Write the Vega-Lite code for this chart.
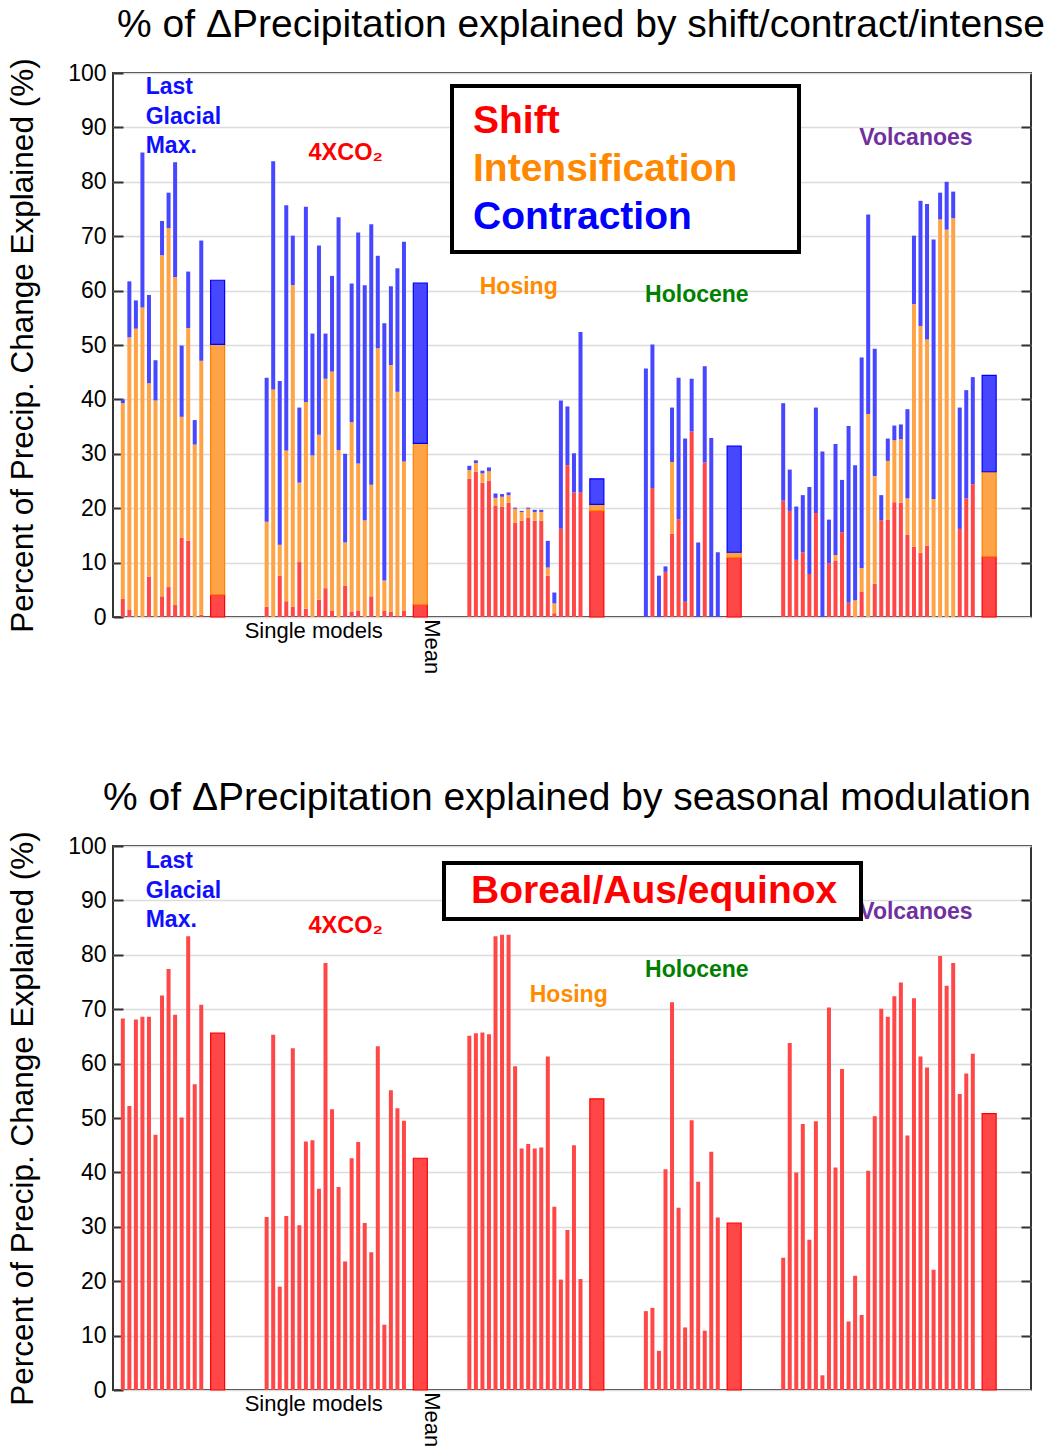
{
  "$schema": "https://vega.github.io/schema/vega-lite/v6.json",
  "background": "white",
  "padding": {"left": 6, "top": 4, "right": 0, "bottom": 0},
  "config": {
    "font": "Liberation Sans",
    "view": {"stroke": "#333333", "strokeWidth": 2},
    "axis": {"labelFont": "Liberation Sans", "titleFont": "Liberation Sans"},
    "legend": {"labelFont": "Liberation Sans", "titleFont": "Liberation Sans", "strokeColor": "black", "strokeWidth": 4, "fillColor": "white"}
  },
  "datasets": {
    "top": [
      {"x": 0, "kind": "single", "Shift": 3.3, "Intensification": 36.0, "Contraction": 0.7},
      {"x": 1, "kind": "single", "Shift": 1.4, "Intensification": 50.0, "Contraction": 10.3},
      {"x": 2, "kind": "single", "Shift": 0, "Intensification": 53.0, "Contraction": 5.2},
      {"x": 3, "kind": "single", "Shift": 0, "Intensification": 56.9, "Contraction": 28.5},
      {"x": 4, "kind": "single", "Shift": 7.4, "Intensification": 35.6, "Contraction": 16.2},
      {"x": 5, "kind": "single", "Shift": 0, "Intensification": 39.8, "Contraction": 7.4},
      {"x": 6, "kind": "single", "Shift": 3.8, "Intensification": 62.7, "Contraction": 6.3},
      {"x": 7, "kind": "single", "Shift": 5.5, "Intensification": 66.0, "Contraction": 6.5},
      {"x": 8, "kind": "single", "Shift": 2.2, "Intensification": 60.3, "Contraction": 21.1},
      {"x": 9, "kind": "single", "Shift": 14.6, "Intensification": 22.2, "Contraction": 13.1},
      {"x": 10, "kind": "single", "Shift": 14.0, "Intensification": 39.1, "Contraction": 10.4},
      {"x": 11, "kind": "single", "Shift": 0, "Intensification": 31.7, "Contraction": 4.5},
      {"x": 12, "kind": "single", "Shift": 0.4, "Intensification": 46.7, "Contraction": 22.1},
      {"x": 14.5, "kind": "mean", "Shift": 4.1, "Intensification": 46.0, "Contraction": 11.8},
      {"x": 22, "kind": "single", "Shift": 1.9, "Intensification": 15.6, "Contraction": 26.5},
      {"x": 23, "kind": "single", "Shift": 0, "Intensification": 41.8, "Contraction": 42.0},
      {"x": 24, "kind": "single", "Shift": 7.6, "Intensification": 5.7, "Contraction": 30.1},
      {"x": 25, "kind": "single", "Shift": 2.9, "Intensification": 27.7, "Contraction": 45.1},
      {"x": 26, "kind": "single", "Shift": 1.9, "Intensification": 59.1, "Contraction": 9.1},
      {"x": 27, "kind": "single", "Shift": 10.1, "Intensification": 14.6, "Contraction": 13.8},
      {"x": 28, "kind": "single", "Shift": 1.5, "Intensification": 38.0, "Contraction": 35.9},
      {"x": 29, "kind": "single", "Shift": 0, "Intensification": 29.7, "Contraction": 22.4},
      {"x": 30, "kind": "single", "Shift": 3.2, "Intensification": 30.3, "Contraction": 34.8},
      {"x": 31, "kind": "single", "Shift": 5.3, "Intensification": 38.5, "Contraction": 8.3},
      {"x": 32, "kind": "single", "Shift": 1.2, "Intensification": 43.9, "Contraction": 17.6},
      {"x": 33, "kind": "single", "Shift": 0, "Intensification": 30.7, "Contraction": 42.8},
      {"x": 34, "kind": "single", "Shift": 5.7, "Intensification": 8.0, "Contraction": 16.3},
      {"x": 35, "kind": "single", "Shift": 1.0, "Intensification": 34.8, "Contraction": 25.5},
      {"x": 36, "kind": "single", "Shift": 1.2, "Intensification": 27.0, "Contraction": 42.5},
      {"x": 37, "kind": "single", "Shift": 0, "Intensification": 17.8, "Contraction": 43.2},
      {"x": 38, "kind": "single", "Shift": 3.8, "Intensification": 20.5, "Contraction": 47.9},
      {"x": 39, "kind": "single", "Shift": 0, "Intensification": 49.4, "Contraction": 17.0},
      {"x": 40, "kind": "single", "Shift": 1.1, "Intensification": 5.6, "Contraction": 47.3},
      {"x": 41, "kind": "single", "Shift": 1.0, "Intensification": 45.3, "Contraction": 14.5},
      {"x": 42, "kind": "single", "Shift": 0.2, "Intensification": 41.2, "Contraction": 22.7},
      {"x": 43, "kind": "single", "Shift": 1.1, "Intensification": 27.5, "Contraction": 40.4},
      {"x": 45.5, "kind": "mean", "Shift": 2.3, "Intensification": 29.6, "Contraction": 29.5},
      {"x": 53, "kind": "single", "Shift": 25.4, "Intensification": 1.6, "Contraction": 0.8},
      {"x": 54, "kind": "single", "Shift": 26.7, "Intensification": 1.6, "Contraction": 0.5},
      {"x": 55, "kind": "single", "Shift": 24.7, "Intensification": 1.7, "Contraction": 0.5},
      {"x": 56, "kind": "single", "Shift": 25.1, "Intensification": 1.7, "Contraction": 0.7},
      {"x": 57, "kind": "single", "Shift": 20.5, "Intensification": 1.4, "Contraction": 0.8},
      {"x": 58, "kind": "single", "Shift": 20.3, "Intensification": 1.8, "Contraction": 0.5},
      {"x": 59, "kind": "single", "Shift": 21.0, "Intensification": 1.4, "Contraction": 0.5},
      {"x": 60, "kind": "single", "Shift": 17.3, "Intensification": 2.6, "Contraction": 0.2},
      {"x": 61, "kind": "single", "Shift": 17.7, "Intensification": 1.6, "Contraction": 0.2},
      {"x": 62, "kind": "single", "Shift": 18.3, "Intensification": 1.6, "Contraction": 0.2},
      {"x": 63, "kind": "single", "Shift": 17.7, "Intensification": 1.6, "Contraction": 0.4},
      {"x": 64, "kind": "single", "Shift": 17.7, "Intensification": 1.6, "Contraction": 0.4},
      {"x": 65, "kind": "single", "Shift": 7.6, "Intensification": 1.5, "Contraction": 4.9},
      {"x": 66, "kind": "single", "Shift": 0.7, "Intensification": 1.8, "Contraction": 2.0},
      {"x": 67, "kind": "single", "Shift": 16.2, "Intensification": 0, "Contraction": 23.6},
      {"x": 68, "kind": "single", "Shift": 27.9, "Intensification": 0, "Contraction": 10.8},
      {"x": 69, "kind": "single", "Shift": 22.9, "Intensification": 0, "Contraction": 7.2},
      {"x": 70, "kind": "single", "Shift": 22.9, "Intensification": 0, "Contraction": 29.5},
      {"x": 72.5, "kind": "mean", "Shift": 19.5, "Intensification": 1.2, "Contraction": 4.7},
      {"x": 80, "kind": "single", "Shift": 0, "Intensification": 0, "Contraction": 45.7},
      {"x": 81, "kind": "single", "Shift": 23.7, "Intensification": 0, "Contraction": 26.4},
      {"x": 82, "kind": "single", "Shift": 0, "Intensification": 0, "Contraction": 7.6},
      {"x": 83, "kind": "single", "Shift": 8.3, "Intensification": 0, "Contraction": 1.0},
      {"x": 84, "kind": "single", "Shift": 15.3, "Intensification": 13.2, "Contraction": 10.0},
      {"x": 85, "kind": "single", "Shift": 18.0, "Intensification": 0, "Contraction": 26.0},
      {"x": 86, "kind": "single", "Shift": 2.8, "Intensification": 0, "Contraction": 30.0},
      {"x": 87, "kind": "single", "Shift": 34.1, "Intensification": 0, "Contraction": 9.7},
      {"x": 88, "kind": "single", "Shift": 0, "Intensification": 0, "Contraction": 13.7},
      {"x": 89, "kind": "single", "Shift": 28.4, "Intensification": 0, "Contraction": 17.7},
      {"x": 90, "kind": "single", "Shift": 0, "Intensification": 0, "Contraction": 32.9},
      {"x": 91, "kind": "single", "Shift": 0, "Intensification": 0, "Contraction": 11.9},
      {"x": 93.5, "kind": "mean", "Shift": 10.9, "Intensification": 1.0, "Contraction": 19.5},
      {"x": 101, "kind": "single", "Shift": 21.4, "Intensification": 0, "Contraction": 17.9},
      {"x": 102, "kind": "single", "Shift": 19.5, "Intensification": 0, "Contraction": 7.6},
      {"x": 103, "kind": "single", "Shift": 10.5, "Intensification": 0, "Contraction": 9.8},
      {"x": 104, "kind": "single", "Shift": 11.9, "Intensification": 0, "Contraction": 10.5},
      {"x": 105, "kind": "single", "Shift": 7.9, "Intensification": 0, "Contraction": 16.0},
      {"x": 106, "kind": "single", "Shift": 19.1, "Intensification": 0, "Contraction": 19.4},
      {"x": 107, "kind": "single", "Shift": 0, "Intensification": 0, "Contraction": 30.4},
      {"x": 108, "kind": "single", "Shift": 9.9, "Intensification": 0, "Contraction": 8.0},
      {"x": 109, "kind": "single", "Shift": 10.4, "Intensification": 1.0, "Contraction": 20.4},
      {"x": 110, "kind": "single", "Shift": 15.6, "Intensification": 0, "Contraction": 9.6},
      {"x": 111, "kind": "single", "Shift": 2.6, "Intensification": 0, "Contraction": 32.5},
      {"x": 112, "kind": "single", "Shift": 0, "Intensification": 3.1, "Contraction": 24.8},
      {"x": 113, "kind": "single", "Shift": 4.7, "Intensification": 4.3, "Contraction": 38.7},
      {"x": 114, "kind": "single", "Shift": 0, "Intensification": 37.3, "Contraction": 36.7},
      {"x": 115, "kind": "single", "Shift": 6.1, "Intensification": 19.8, "Contraction": 23.4},
      {"x": 116, "kind": "single", "Shift": 17.8, "Intensification": 0, "Contraction": 4.6},
      {"x": 117, "kind": "single", "Shift": 17.9, "Intensification": 10.8, "Contraction": 4.1},
      {"x": 118, "kind": "single", "Shift": 21.1, "Intensification": 11.4, "Contraction": 2.7},
      {"x": 119, "kind": "single", "Shift": 21.0, "Intensification": 11.7, "Contraction": 2.7},
      {"x": 120, "kind": "single", "Shift": 15.1, "Intensification": 6.7, "Contraction": 16.4},
      {"x": 121, "kind": "single", "Shift": 12.9, "Intensification": 44.6, "Contraction": 12.6},
      {"x": 122, "kind": "single", "Shift": 11.8, "Intensification": 41.7, "Contraction": 23.0},
      {"x": 123, "kind": "single", "Shift": 13.1, "Intensification": 37.9, "Contraction": 24.9},
      {"x": 124, "kind": "single", "Shift": 0, "Intensification": 21.7, "Contraction": 47.7},
      {"x": 125, "kind": "single", "Shift": 0, "Intensification": 73.1, "Contraction": 4.9},
      {"x": 126, "kind": "single", "Shift": 0, "Intensification": 71.2, "Contraction": 8.8},
      {"x": 127, "kind": "single", "Shift": 0, "Intensification": 73.3, "Contraction": 4.9},
      {"x": 128, "kind": "single", "Shift": 16.2, "Intensification": 0, "Contraction": 22.3},
      {"x": 129, "kind": "single", "Shift": 21.8, "Intensification": 0, "Contraction": 19.9},
      {"x": 130, "kind": "single", "Shift": 24.4, "Intensification": 0, "Contraction": 19.7},
      {"x": 132.5, "kind": "mean", "Shift": 11.1, "Intensification": 15.6, "Contraction": 17.7}
    ],
    "bottom": [
      {"x": 0, "kind": "single", "v": 68.3}, {"x": 1, "kind": "single", "v": 52.2}, {"x": 2, "kind": "single", "v": 68.1},
      {"x": 3, "kind": "single", "v": 68.6}, {"x": 4, "kind": "single", "v": 68.6}, {"x": 5, "kind": "single", "v": 46.9},
      {"x": 6, "kind": "single", "v": 72.5}, {"x": 7, "kind": "single", "v": 77.4}, {"x": 8, "kind": "single", "v": 69.0},
      {"x": 9, "kind": "single", "v": 50.1}, {"x": 10, "kind": "single", "v": 83.4}, {"x": 11, "kind": "single", "v": 56.2},
      {"x": 12, "kind": "single", "v": 70.8}, {"x": 14.5, "kind": "mean", "v": 65.6},
      {"x": 22, "kind": "single", "v": 31.8}, {"x": 23, "kind": "single", "v": 65.3}, {"x": 24, "kind": "single", "v": 19.0},
      {"x": 25, "kind": "single", "v": 32.0}, {"x": 26, "kind": "single", "v": 62.8}, {"x": 27, "kind": "single", "v": 30.3},
      {"x": 28, "kind": "single", "v": 45.7}, {"x": 29, "kind": "single", "v": 45.9}, {"x": 30, "kind": "single", "v": 37.0},
      {"x": 31, "kind": "single", "v": 78.5}, {"x": 32, "kind": "single", "v": 51.6}, {"x": 33, "kind": "single", "v": 37.3},
      {"x": 34, "kind": "single", "v": 23.6}, {"x": 35, "kind": "single", "v": 42.6}, {"x": 36, "kind": "single", "v": 45.6},
      {"x": 37, "kind": "single", "v": 30.7}, {"x": 38, "kind": "single", "v": 25.3}, {"x": 39, "kind": "single", "v": 63.2},
      {"x": 40, "kind": "single", "v": 12.0}, {"x": 41, "kind": "single", "v": 55.1}, {"x": 42, "kind": "single", "v": 51.8},
      {"x": 43, "kind": "single", "v": 49.5}, {"x": 45.5, "kind": "mean", "v": 42.6},
      {"x": 53, "kind": "single", "v": 65.1}, {"x": 54, "kind": "single", "v": 65.6}, {"x": 55, "kind": "single", "v": 65.7},
      {"x": 56, "kind": "single", "v": 65.4}, {"x": 57, "kind": "single", "v": 83.4}, {"x": 58, "kind": "single", "v": 83.7},
      {"x": 59, "kind": "single", "v": 83.7}, {"x": 60, "kind": "single", "v": 59.5}, {"x": 61, "kind": "single", "v": 44.4},
      {"x": 62, "kind": "single", "v": 45.2}, {"x": 63, "kind": "single", "v": 44.4}, {"x": 64, "kind": "single", "v": 44.6},
      {"x": 65, "kind": "single", "v": 61.3}, {"x": 66, "kind": "single", "v": 33.7}, {"x": 67, "kind": "single", "v": 20.3},
      {"x": 68, "kind": "single", "v": 29.4}, {"x": 69, "kind": "single", "v": 45.0}, {"x": 70, "kind": "single", "v": 20.4},
      {"x": 72.5, "kind": "mean", "v": 53.5},
      {"x": 80, "kind": "single", "v": 14.5}, {"x": 81, "kind": "single", "v": 15.1}, {"x": 82, "kind": "single", "v": 7.2},
      {"x": 83, "kind": "single", "v": 40.6}, {"x": 84, "kind": "single", "v": 71.3}, {"x": 85, "kind": "single", "v": 33.5},
      {"x": 86, "kind": "single", "v": 11.5}, {"x": 87, "kind": "single", "v": 49.6}, {"x": 88, "kind": "single", "v": 38.3},
      {"x": 89, "kind": "single", "v": 10.9}, {"x": 90, "kind": "single", "v": 43.8}, {"x": 91, "kind": "single", "v": 31.7},
      {"x": 93.5, "kind": "mean", "v": 30.7},
      {"x": 101, "kind": "single", "v": 24.3}, {"x": 102, "kind": "single", "v": 63.8}, {"x": 103, "kind": "single", "v": 40.0},
      {"x": 104, "kind": "single", "v": 48.9}, {"x": 105, "kind": "single", "v": 27.6}, {"x": 106, "kind": "single", "v": 49.4},
      {"x": 107, "kind": "single", "v": 2.7}, {"x": 108, "kind": "single", "v": 70.3}, {"x": 109, "kind": "single", "v": 40.9},
      {"x": 110, "kind": "single", "v": 59.0}, {"x": 111, "kind": "single", "v": 12.6}, {"x": 112, "kind": "single", "v": 21.0},
      {"x": 113, "kind": "single", "v": 13.8}, {"x": 114, "kind": "single", "v": 40.3}, {"x": 115, "kind": "single", "v": 50.3},
      {"x": 116, "kind": "single", "v": 70.1}, {"x": 117, "kind": "single", "v": 68.6}, {"x": 118, "kind": "single", "v": 72.4},
      {"x": 119, "kind": "single", "v": 74.9}, {"x": 120, "kind": "single", "v": 46.8}, {"x": 121, "kind": "single", "v": 72.0},
      {"x": 122, "kind": "single", "v": 61.3}, {"x": 123, "kind": "single", "v": 59.3}, {"x": 124, "kind": "single", "v": 22.1},
      {"x": 125, "kind": "single", "v": 79.8}, {"x": 126, "kind": "single", "v": 74.3}, {"x": 127, "kind": "single", "v": 78.5},
      {"x": 128, "kind": "single", "v": 54.4}, {"x": 129, "kind": "single", "v": 58.2}, {"x": 130, "kind": "single", "v": 61.8},
      {"x": 132.5, "kind": "mean", "v": 50.8}
    ]
  },
  "spacing": 229,
  "bounds": "flush",
  "resolve": {"scale": {"color": "independent", "stroke": "independent", "x": "independent", "y": "independent"}},
  "vconcat": [
    {
      "width": 918,
      "height": 544,
      "title": {"text": "% of \u0394Precipitation explained by shift/contract/intense", "fontSize": 39, "fontWeight": "normal", "font": "Liberation Sans", "color": "black", "anchor": "middle", "frame": "group", "offset": 13, "dx": 9},
      "resolve": {"axis": {"y": "independent"}},
      "layer": [
        {
          "data": {"name": "top"},
          "transform": [{"filter": "datum.kind == 'single'"}, {"fold": ["Shift", "Intensification", "Contraction"], "as": ["comp", "v"]}],
          "mark": {"type": "bar", "width": 4},
          "encoding": {
            "x": {"field": "x", "type": "quantitative", "scale": {"domain": [-1.5, 138.9], "nice": false, "zero": false, "padding": 0},
                  "axis": {"orient": "bottom", "domain": true, "domainColor": "#444444", "domainWidth": 3, "ticks": false, "labels": false, "grid": false, "title": null}},
            "y": {"field": "v", "type": "quantitative", "stack": "zero", "scale": {"domain": [0, 100], "nice": false},
                  "axis": {"values": [0, 10, 20, 30, 40, 50, 60, 70, 80, 90, 100], "grid": true, "gridColor": "#dcdcdc", "gridWidth": 1.5, "domain": false, "tickSize": -10, "tickColor": "#333333", "tickWidth": 2, "labelFontSize": 23, "labelColor": "black", "labelPadding": 17, "title": "Percent of Precip. Change Explained (%)", "titleFontSize": 31.5, "titleFontWeight": "normal", "titleColor": "black", "titlePadding": 28}},
            "color": {"field": "comp", "type": "nominal",
                      "scale": {"domain": ["Shift", "Intensification", "Contraction"], "range": ["#ff4747", "#ffa347", "#4747ff"]},
                      "legend": {"orient": "none", "legendX": 339, "legendY": 13,
                                 "title": "MM", "titleOrient": "right", "titleFontSize": 20, "titlePadding": 13, "titleOpacity": 0,
                                 "labelFontSize": 39, "labelFontWeight": "bold", "labelLimit": 600, "labelOffset": -33,
                                 "symbolSize": 0, "symbolOpacity": 0, "symbolStrokeWidth": 0, "rowPadding": 8, "padding": 15,
                                 "encode": {"labels": {"update": {"fill": {"signal": "datum.value === 'Shift' ? '#ff0000' : datum.value === 'Intensification' ? '#ff8800' : '#0000ff'"}}}}}},
            "order": {"field": "comp", "type": "ordinal", "sort": "descending"}
          }
        },
        {
          "data": {"name": "top"},
          "transform": [{"filter": "datum.kind == 'mean'"}, {"fold": ["Shift", "Intensification", "Contraction"], "as": ["comp", "v"]}],
          "mark": {"type": "bar", "width": 14, "strokeWidth": 1.2},
          "encoding": {
            "x": {"field": "x", "type": "quantitative", "axis": null},
            "y": {"field": "v", "type": "quantitative", "stack": "zero",
                  "axis": {"orient": "right", "values": [10, 20, 30, 40, 50, 60, 70, 80, 90], "grid": false, "domain": false, "labels": false, "tickSize": -10, "tickColor": "#333333", "tickWidth": 2, "title": null}},
            "color": {"field": "comp", "type": "nominal"},
            "stroke": {"field": "comp", "type": "nominal", "scale": {"domain": ["Shift", "Intensification", "Contraction"], "range": ["#ff0000", "#ff8000", "#0000ff"]}, "legend": null},
            "order": {"field": "comp", "type": "ordinal", "sort": "descending"}
          }
        },
        {
          "data": {"values": [{}]},
          "mark": {"type": "text", "text": ["Last", "Glacial", "Max."], "color": "#1010ff", "fontSize": 23, "fontWeight": "bold", "align": "left", "baseline": "alphabetic", "lineHeight": 29.5},
          "encoding": {"x": {"datum": 3.5, "type": "quantitative", "axis": null}, "y": {"datum": 96.1, "type": "quantitative", "axis": null}}
        },
        {
          "data": {"values": [{}]},
          "mark": {"type": "text", "text": "4XCO\u2082", "color": "#ff0000", "fontSize": 23.5, "fontWeight": "bold", "align": "center", "baseline": "alphabetic"},
          "encoding": {"x": {"datum": 34.1, "type": "quantitative", "axis": null}, "y": {"datum": 84.0, "type": "quantitative", "axis": null}}
        },
        {
          "data": {"values": [{}]},
          "mark": {"type": "text", "text": "Hosing", "color": "#ff8c00", "fontSize": 23, "fontWeight": "bold", "align": "center", "baseline": "alphabetic"},
          "encoding": {"x": {"datum": 60.55, "type": "quantitative", "axis": null}, "y": {"datum": 59.4, "type": "quantitative", "axis": null}}
        },
        {
          "data": {"values": [{}]},
          "mark": {"type": "text", "text": "Holocene", "color": "#008000", "fontSize": 23, "fontWeight": "bold", "align": "center", "baseline": "alphabetic"},
          "encoding": {"x": {"datum": 87.8, "type": "quantitative", "axis": null}, "y": {"datum": 57.9, "type": "quantitative", "axis": null}}
        },
        {
          "data": {"values": [{}]},
          "mark": {"type": "text", "text": "Volcanoes", "color": "#7030a0", "fontSize": 23, "fontWeight": "bold", "align": "center", "baseline": "alphabetic"},
          "encoding": {"x": {"datum": 121.3, "type": "quantitative", "axis": null}, "y": {"datum": 86.7, "type": "quantitative", "axis": null}}
        },
        {
          "data": {"values": [{}]},
          "mark": {"type": "text", "text": "Single models", "color": "black", "fontSize": 22, "align": "center", "baseline": "middle"},
          "encoding": {"x": {"datum": 29.2, "type": "quantitative", "axis": null}, "y": {"datum": -2.55, "type": "quantitative", "axis": null}}
        },
        {
          "data": {"values": [{}]},
          "mark": {"type": "text", "text": "Mean", "color": "black", "fontSize": 22, "align": "left", "baseline": "middle", "angle": 90},
          "encoding": {"x": {"datum": 47.3, "type": "quantitative", "axis": null}, "y": {"datum": -0.4, "type": "quantitative", "axis": null}}
        }
      ]
    },
    {
      "width": 918,
      "height": 544,
      "title": {"text": "% of \u0394Precipitation explained by seasonal modulation", "fontSize": 39, "fontWeight": "normal", "font": "Liberation Sans", "color": "black", "anchor": "middle", "frame": "group", "offset": 13, "dx": -5},
      "resolve": {"axis": {"y": "independent"}},
      "layer": [
        {
          "data": {"name": "bottom"},
          "transform": [{"filter": "datum.kind == 'single'"}],
          "mark": {"type": "bar", "width": 4},
          "encoding": {
            "x": {"field": "x", "type": "quantitative", "scale": {"domain": [-1.5, 138.9], "nice": false, "zero": false, "padding": 0},
                  "axis": {"orient": "bottom", "domain": true, "domainColor": "#444444", "domainWidth": 3, "ticks": false, "labels": false, "grid": false, "title": null}},
            "y": {"field": "v", "type": "quantitative", "scale": {"domain": [0, 100], "nice": false},
                  "axis": {"values": [0, 10, 20, 30, 40, 50, 60, 70, 80, 90, 100], "grid": true, "gridColor": "#dcdcdc", "gridWidth": 1.5, "domain": false, "tickSize": -10, "tickColor": "#333333", "tickWidth": 2, "labelFontSize": 23, "labelColor": "black", "labelPadding": 17, "title": "Percent of Precip. Change Explained (%)", "titleFontSize": 31.5, "titleFontWeight": "normal", "titleColor": "black", "titlePadding": 28}},
            "color": {"datum": "Boreal/Aus/equinox", "type": "nominal",
                      "scale": {"domain": ["Boreal/Aus/equinox"], "range": ["#ff4747"]},
                      "legend": {"orient": "none", "legendX": 331, "legendY": 17,
                                 "title": "I", "titleOrient": "right", "titleFontSize": 20, "titlePadding": 10, "titleOpacity": 0,
                                 "labelFontSize": 39, "labelFontWeight": "bold", "labelLimit": 700, "labelOffset": -20, "labelColor": "#ff0000",
                                 "symbolSize": 0, "symbolOpacity": 0, "symbolStrokeWidth": 0, "padding": 8}}
          }
        },
        {
          "data": {"name": "bottom"},
          "transform": [{"filter": "datum.kind == 'mean'"}],
          "mark": {"type": "bar", "width": 14, "stroke": "#ff0000", "strokeWidth": 1.2},
          "encoding": {
            "x": {"field": "x", "type": "quantitative", "axis": null},
            "y": {"field": "v", "type": "quantitative",
                  "axis": {"orient": "right", "values": [10, 20, 30, 40, 50, 60, 70, 80, 90], "grid": false, "domain": false, "labels": false, "tickSize": -10, "tickColor": "#333333", "tickWidth": 2, "title": null}},
            "color": {"datum": "Boreal/Aus/equinox", "type": "nominal"}
          }
        },
        {
          "data": {"values": [{}]},
          "mark": {"type": "text", "text": ["Last", "Glacial", "Max."], "color": "#1010ff", "fontSize": 23, "fontWeight": "bold", "align": "left", "baseline": "alphabetic", "lineHeight": 29.5},
          "encoding": {"x": {"datum": 3.5, "type": "quantitative", "axis": null}, "y": {"datum": 95.9, "type": "quantitative", "axis": null}}
        },
        {
          "data": {"values": [{}]},
          "mark": {"type": "text", "text": "4XCO\u2082", "color": "#ff0000", "fontSize": 23.5, "fontWeight": "bold", "align": "center", "baseline": "alphabetic"},
          "encoding": {"x": {"datum": 34.1, "type": "quantitative", "axis": null}, "y": {"datum": 84.0, "type": "quantitative", "axis": null}}
        },
        {
          "data": {"values": [{}]},
          "mark": {"type": "text", "text": "Hosing", "color": "#ff8c00", "fontSize": 23, "fontWeight": "bold", "align": "center", "baseline": "alphabetic"},
          "encoding": {"x": {"datum": 68.2, "type": "quantitative", "axis": null}, "y": {"datum": 71.4, "type": "quantitative", "axis": null}}
        },
        {
          "data": {"values": [{}]},
          "mark": {"type": "text", "text": "Holocene", "color": "#008000", "fontSize": 23, "fontWeight": "bold", "align": "center", "baseline": "alphabetic"},
          "encoding": {"x": {"datum": 87.8, "type": "quantitative", "axis": null}, "y": {"datum": 76.0, "type": "quantitative", "axis": null}}
        },
        {
          "data": {"values": [{}]},
          "mark": {"type": "text", "text": "Volcanoes", "color": "#7030a0", "fontSize": 23, "fontWeight": "bold", "align": "center", "baseline": "alphabetic"},
          "encoding": {"x": {"datum": 121.3, "type": "quantitative", "axis": null}, "y": {"datum": 86.6, "type": "quantitative", "axis": null}}
        },
        {
          "data": {"values": [{}]},
          "mark": {"type": "text", "text": "Single models", "color": "black", "fontSize": 22, "align": "center", "baseline": "middle"},
          "encoding": {"x": {"datum": 29.2, "type": "quantitative", "axis": null}, "y": {"datum": -2.53, "type": "quantitative", "axis": null}}
        },
        {
          "data": {"values": [{}]},
          "mark": {"type": "text", "text": "Mean", "color": "black", "fontSize": 22, "align": "left", "baseline": "middle", "angle": 90},
          "encoding": {"x": {"datum": 47.3, "type": "quantitative", "axis": null}, "y": {"datum": -0.4, "type": "quantitative", "axis": null}}
        }
      ]
    }
  ]
}
